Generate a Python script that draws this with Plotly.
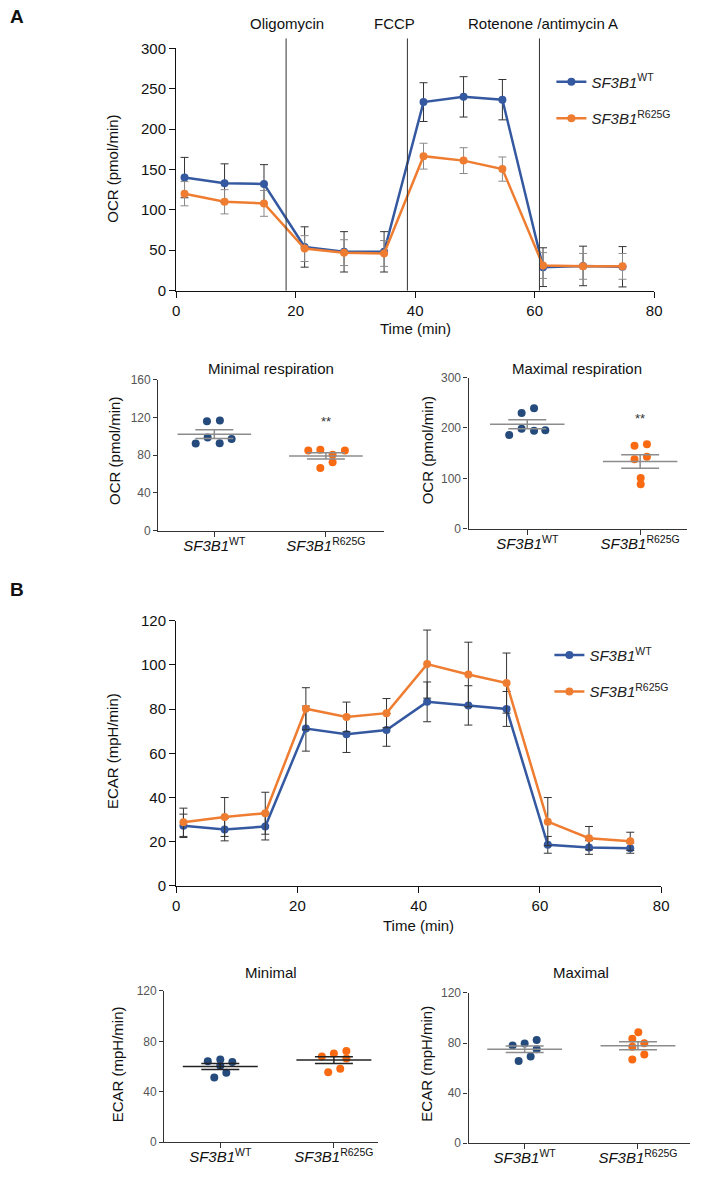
import numpy as np
import plotly.graph_objects as go

W, H = 706, 1180

# the photographed page shows the canvas slightly scaled and offset; compensate
SCALE = 0.985
OFF_X, OFF_Y = 2.5, 8.6


def fx(p):
    return ((p - OFF_X) / SCALE) / W


def fy(p):
    return 1 - ((p - OFF_Y) / SCALE) / H


# ---------------- data ----------------
time_ocr = [1.4, 8.1, 14.7, 21.5, 28.1, 34.8, 41.4, 48.1, 54.6, 61.4, 68.1, 74.7]
ocr_wt = [140, 133, 132, 54, 48, 48, 233.5, 240, 236.5, 29, 30.5, 29.5]
ocr_wt_err = [25, 24, 24, 25, 25, 25, 24, 25, 25, 24, 24.5, 25]
ocr_mut = [120, 110, 108, 52, 47, 46, 166.5, 161, 150.5, 31, 30, 30]
ocr_mut_err = [15, 15, 16, 16, 16, 16, 16, 16, 15, 16, 16, 16]

injection_times = [18.4, 38.7, 60.8]
injection_labels = ["Oligomycin", "FCCP", "Rotenone /antimycin A"]

time_ecar = [1.2, 8.0, 14.7, 21.4, 28.1, 34.7, 41.4, 48.2, 54.5, 61.3, 68.1, 74.9]
ecar_wt = [27.2, 25.5, 26.9, 71.2, 68.7, 70.6, 83.3, 81.7, 80.1, 18.6, 17.4, 17.1]
ecar_wt_err = [5.3, 5.1, 6.1, 10.2, 8.3, 7.4, 9.0, 8.9, 7.9, 3.8, 3.1, 2.3]
ecar_mut = [28.8, 31.2, 32.9, 80.2, 76.5, 78.2, 100.4, 95.7, 91.8, 29.1, 21.6, 20.2]
ecar_mut_err = [6.4, 8.8, 9.5, 9.5, 6.7, 6.6, 15.4, 14.6, 13.6, 10.9, 5.3, 4.1]

categories = ["<i>SF3B1</i><sup>WT</sup>", "<i>SF3B1</i><sup>R625G</sup>"]

# individual replicate values (scatter dot plots)
min_resp_wt = [115.8, 116.8, 98.8, 97.0, 92.4, 92.7]
min_resp_mut = [85.0, 85.7, 85.0, 80.4, 72.6, 66.5]
max_resp_wt = [229.8, 239.1, 186.1, 198.7, 194.7, 195.4]
max_resp_mut = [164.9, 167.5, 137.7, 143.0, 100.7, 88.1]
min_ecar_wt = [64.1, 65.5, 63.6, 60.6, 55.0, 51.3]
min_ecar_mut = [67.9, 70.3, 72.4, 66.3, 58.3, 55.4]
max_ecar_wt = [78.0, 79.6, 82.5, 75.1, 69.3, 65.6]
max_ecar_mut = [88.7, 83.4, 79.9, 77.0, 70.9, 66.9]

# horizontal spread of the dots (in category units)
min_resp_wt_dx = [-0.066, 0.05, -0.06, 0.155, -0.167, 0.048]
min_resp_mut_dx = [-0.158, -0.05, 0.17, 0.06, 0.06, -0.05]
max_resp_wt_dx = [-0.05, 0.06, -0.16, -0.05, 0.06, 0.16]
max_resp_mut_dx = [-0.05, 0.06, -0.05, 0.06, 0.005, 0.005]
min_ecar_wt_dx = [-0.11, 0.0, 0.106, 0.0, 0.053, -0.053]
min_ecar_mut_dx = [-0.106, 0.0, 0.11, 0.11, 0.056, -0.05]
max_ecar_wt_dx = [-0.106, 0.0, 0.106, 0.106, 0.053, -0.053]
max_ecar_mut_dx = [0.003, -0.05, 0.056, -0.05, 0.056, -0.05]

# ---------------- styles ----------------
BLUE = "#3559A0"
ORANGE = "#EE7D31"
NAVY = "#254A7C"
BRIGHT_OR = "#FA6A12"
FONT = "Liberation Sans, Arial, sans-serif"

fig = go.Figure()


# ---------------- main line charts ----------------
def add_lines(t, wt, wte, mut, mte, xa, ya, legend, wt_err_col, mut_err_col):
    fig.add_trace(go.Scatter(
        x=t, y=wt, mode="lines+markers", name=categories[0],
        line=dict(color=BLUE, width=2.5), marker=dict(size=8, color=BLUE),
        error_y=dict(type="data", array=wte, color=wt_err_col, thickness=1, width=4),
        xaxis=xa, yaxis=ya, legend=legend, legendgroup=legend + "wt"))
    fig.add_trace(go.Scatter(
        x=t, y=mut, mode="lines+markers", name=categories[1],
        line=dict(color=ORANGE, width=2.5), marker=dict(size=8, color=ORANGE),
        error_y=dict(type="data", array=mte, color=mut_err_col, thickness=1, width=4),
        xaxis=xa, yaxis=ya, legend=legend, legendgroup=legend + "mut"))


add_lines(time_ocr, ocr_wt, ocr_wt_err, ocr_mut, ocr_mut_err, "x", "y", "legend", "#333333", "#8a8a8a")
add_lines(time_ecar, ecar_wt, ecar_wt_err, ecar_mut, ecar_mut_err, "x6", "y6", "legend2", "#333333", "#333333")


# ---------------- dot plots ----------------
def add_dots(vals_wt, dx_wt, vals_mut, dx_mut, xa, ya, line_col):
    for c, vals, dx, col in ((0, vals_wt, dx_wt, NAVY), (1, vals_mut, dx_mut, BRIGHT_OR)):
        v = np.array(vals, dtype=float)
        m = v.mean()
        sem = v.std(ddof=1) / np.sqrt(len(v))
        fig.add_trace(go.Scatter(
            x=[c + d for d in dx], y=vals, mode="markers",
            marker=dict(size=8, color=col), showlegend=False, xaxis=xa, yaxis=ya))
        fig.add_trace(go.Scatter(
            x=[c - 0.33, c + 0.33], y=[m, m], mode="lines",
            line=dict(color=line_col, width=1.5), showlegend=False, xaxis=xa, yaxis=ya))
        fig.add_trace(go.Scatter(
            x=[c], y=[m], mode="markers", marker=dict(size=1, color="rgba(0,0,0,0)"),
            error_y=dict(type="data", array=[sem], color=line_col, thickness=1.5, width=19),
            showlegend=False, xaxis=xa, yaxis=ya))


add_dots(min_resp_wt, min_resp_wt_dx, min_resp_mut, min_resp_mut_dx, "x2", "y2", "#8c8c8c")
add_dots(max_resp_wt, max_resp_wt_dx, max_resp_mut, max_resp_mut_dx, "x3", "y3", "#8c8c8c")
add_dots(min_ecar_wt, min_ecar_wt_dx, min_ecar_mut, min_ecar_mut_dx, "x4", "y4", "#222222")
add_dots(max_ecar_wt, max_ecar_wt_dx, max_ecar_mut, max_ecar_mut_dx, "x5", "y5", "#8c8c8c")

# ---------------- axes ----------------
main_ax = dict(showline=True, linecolor="#111", linewidth=1.3, ticks="outside", ticklen=6,
               tickcolor="#111", tickfont=dict(size=15, color="#111", family=FONT),
               showgrid=False, zeroline=False, fixedrange=True)
small_y = dict(showline=True, linecolor="#333", linewidth=1.2, ticks="outside", ticklen=4,
               tickcolor="#333", tickfont=dict(size=12, color="#555", family=FONT),
               showgrid=False, zeroline=False)
small_x = dict(showline=True, linecolor="#333", linewidth=1.2, ticks="outside", ticklen=5,
               tickcolor="#333", tickfont=dict(size=15, color="#111", family=FONT),
               showgrid=False, zeroline=False, tickvals=[0, 1], ticktext=categories,
               ticklabelstandoff=-4)

layout = dict(
    width=W, height=H, autosize=False, margin=dict(l=0, r=0, t=0, b=0),
    paper_bgcolor="white", plot_bgcolor="white", font=dict(family=FONT, color="#111"),
    xaxis=dict(main_ax, domain=[fx(175), fx(654)], range=[0, 80], tickvals=[0, 20, 40, 60, 80], anchor="y"),
    yaxis=dict(main_ax, domain=[fy(290), fy(48)], range=[0, 300], tickvals=[0, 50, 100, 150, 200, 250, 300], anchor="x"),
    xaxis6=dict(main_ax, domain=[fx(175), fx(661)], range=[0, 80], tickvals=[0, 20, 40, 60, 80], anchor="y6"),
    yaxis6=dict(main_ax, domain=[fy(885), fy(620)], range=[0, 120], tickvals=[0, 20, 40, 60, 80, 100, 120], anchor="x6"),
    xaxis2=dict(small_x, domain=[fx(157), fx(383)], range=[-0.503, 1.518], anchor="y2"),
    yaxis2=dict(small_y, domain=[fy(530), fy(379)], range=[0, 160], tickvals=[0, 40, 80, 120, 160], anchor="x2"),
    xaxis3=dict(small_x, domain=[fx(468), fx(687)], range=[-0.52, 1.416], anchor="y3"),
    yaxis3=dict(small_y, domain=[fy(528), fy(377)], range=[0, 300], tickvals=[0, 100, 200, 300], anchor="x3"),
    xaxis4=dict(small_x, domain=[fx(163), fx(377)], range=[-0.494, 1.386], anchor="y4"),
    yaxis4=dict(small_y, domain=[fy(1141), fy(990)], range=[0, 120], tickvals=[0, 40, 80, 120], anchor="x4"),
    xaxis5=dict(small_x, domain=[fx(468), fx(690)], range=[-0.495, 1.46], anchor="y5"),
    yaxis5=dict(small_y, domain=[fy(1142), fy(992)], range=[0, 120], tickvals=[0, 40, 80, 120], anchor="x5"),
    legend=dict(x=fx(551), y=fy(65), xanchor="left", yanchor="top", bgcolor="rgba(0,0,0,0)",
                font=dict(size=15, color="#222"), tracegroupgap=14, traceorder="grouped"),
    legend2=dict(x=fx(549), y=fy(638), xanchor="left", yanchor="top", bgcolor="rgba(0,0,0,0)",
                 font=dict(size=15, color="#222"), tracegroupgap=14, traceorder="grouped"),
)
fig.update_layout(**layout)

# injection lines
shapes = []
for t in injection_times:
    shapes.append(dict(type="line", xref="x", yref="paper", x0=t, x1=t,
                       y0=fy(290), y1=fy(38), line=dict(color="#333", width=1)))
fig.update_layout(shapes=shapes)

ann = []


def atext(text, xp, yp, size=15, angle=0, bold=False, color="#111"):
    if bold:
        text = "<b>" + text + "</b>"
    ann.append(dict(text=text, x=fx(xp), y=fy(yp), xref="paper", yref="paper",
                    xanchor="center", yanchor="middle",
                    showarrow=False, textangle=angle, font=dict(size=size, color=color)))


label_px = [286, 394, 543]
for lab, xp in zip(injection_labels, label_px):
    atext(lab, xp, 23, size=15)

atext("A", 16, 16, size=19, bold=True)
atext("B", 16, 589, size=19, bold=True)
atext("OCR (pmol/min)", 111, 168, size=15, angle=-90)
atext("Time (min)", 415, 328, size=15)
atext("ECAR (mpH/min)", 112, 750, size=15, angle=-90)
atext("Time (min)", 418, 925, size=15)
atext("Minimal respiration", 270, 368, size=15)
atext("Maximal respiration", 577, 368, size=15)
atext("OCR (pmol/min)", 113, 450, size=15, angle=-90)
atext("OCR (pmol/min)", 427, 450, size=15, angle=-90)
atext("Minimal", 270, 972, size=15)
atext("Maximal", 581, 972, size=15)
atext("ECAR (mpH/min)", 116, 1063, size=15, angle=-90)
atext("ECAR (mpH/min)", 425, 1063, size=15, angle=-90)

ann.append(dict(text="**", x=1, y=116, xref="x2", yref="y2", showarrow=False,
                font=dict(size=13, color="#333")))
ann.append(dict(text="**", x=1, y=218, xref="x3", yref="y3", showarrow=False,
                font=dict(size=13, color="#333")))
fig.update_layout(annotations=ann)

fig.write_html(
    "out.html",
    config={"displayModeBar": False},
    post_script=(
        "document.documentElement.style.margin='0';"
        "document.documentElement.style.overflow='hidden';"
        "document.body.style.margin='0';document.body.style.padding='0';"
        "document.body.style.overflow='hidden';"
        "var d=document.getElementById('{plot_id}');"
        "d.style.position='fixed';d.style.top='0px';d.style.left='0px';"
    ),
)
